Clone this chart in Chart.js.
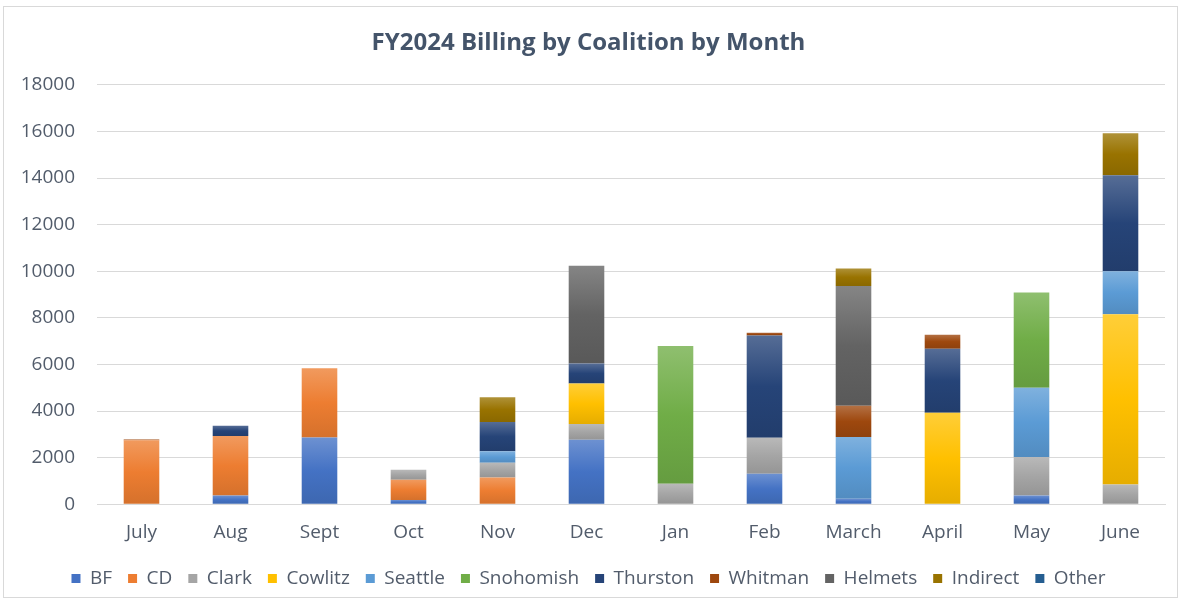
<!DOCTYPE html>
<html>
<head>
<meta charset="utf-8">
<script src="https://cdn.jsdelivr.net/npm/chart.js@4"></script>
<style>
  html, body { margin: 0; padding: 0; background: #fff; }
  #wrap { position: relative; width: 1183px; height: 605px; }
  #frame { position: absolute; left: 3px; top: 6px; width: 1175px; height: 592px; border: 1px solid #d9d9d9; box-sizing: border-box; pointer-events: none; }
  canvas { position: absolute; left: 0; top: 0; }
</style>
</head>
<body>
<div id="wrap">
  <canvas id="myChart" width="1183" height="605"></canvas>
  <div id="frame"></div>
</div>
<script>
const months = ['July', 'Aug', 'Sept', 'Oct', 'Nov', 'Dec', 'Jan', 'Feb', 'March', 'April', 'May', 'June'];

const bf        = [0, 375, 2860, 180, 0, 2770, 0, 1305, 230, 0, 375, 0];
const cd        = [2750, 2550, 2970, 870, 1150, 0, 0, 0, 0, 0, 0, 0];
const clark     = [0, 0, 0, 430, 630, 675, 875, 1550, 0, 0, 1650, 850];
const cowlitz   = [0, 0, 0, 0, 0, 1740, 0, 0, 0, 3920, 0, 7305];
const seattle   = [0, 0, 0, 0, 490, 0, 0, 0, 2655, 0, 2970, 1840];
const snohomish = [0, 0, 0, 0, 0, 0, 5915, 0, 0, 0, 4090, 0];
const thurston  = [0, 445, 0, 0, 1260, 850, 0, 4390, 0, 2755, 0, 4120];
const whitman   = [30, 0, 0, 0, 0, 0, 0, 115, 1335, 600, 0, 0];
const helmets   = [0, 0, 0, 0, 0, 4200, 0, 0, 5140, 0, 0, 0];
const indirect  = [0, 0, 0, 0, 1060, 0, 0, 0, 760, 0, 0, 1810];
const other     = [0, 0, 0, 0, 0, 0, 0, 0, 0, 0, 0, 0];

const yTicks = [0, 2000, 4000, 6000, 8000, 10000, 12000, 14000, 16000, 18000];

const series = [
    { label: 'BF', data: bf, color: '#4472C4' },
    { label: 'CD', data: cd, color: '#ED7D31' },
    { label: 'Clark', data: clark, color: '#A5A5A5' },
    { label: 'Cowlitz', data: cowlitz, color: '#FFC000' },
    { label: 'Seattle', data: seattle, color: '#5B9BD5' },
    { label: 'Snohomish', data: snohomish, color: '#70AD47' },
    { label: 'Thurston', data: thurston, color: '#264478' },
    { label: 'Whitman', data: whitman, color: '#9E480E' },
    { label: 'Helmets', data: helmets, color: '#636363' },
    { label: 'Indirect', data: indirect, color: '#997300' },
    { label: 'Other', data: other, color: '#255E91' }
];

function mix(hex, target, amt) {
    const n = parseInt(hex.slice(1), 16);
    const r = (n >> 16) & 255, g = (n >> 8) & 255, b = n & 255;
    const m = (c) => Math.round(c + (target - c) * amt);
    return `rgb(${m(r)},${m(g)},${m(b)})`;
}

// each segment gets its own light-to-dark gradient, like the office fill
function segmentFill(color) {
    return (ctx) => {
        const chart = ctx.chart;
        if (!chart.chartArea || ctx.type !== 'data') return color;
        const i = ctx.dataIndex;
        let base = 0;
        for (let d = 0; d < ctx.datasetIndex; d++) base += series[d].data[i];
        const top = base + series[ctx.datasetIndex].data[i];
        const y = chart.scales.y;
        const y0 = y.getPixelForValue(top);
        const y1 = y.getPixelForValue(base);
        if (!isFinite(y0) || !isFinite(y1) || y1 - y0 < 1) return color;
        const g = chart.ctx.createLinearGradient(0, y0, 0, y1);
        g.addColorStop(0, mix(color, 255, 0.22));
        g.addColorStop(0.5, color);
        g.addColorStop(1, mix(color, 0, 0.1));
        return g;
    };
}

const textColor = '#525c6b';
const fontFam = '"Open Sans", Lato, sans-serif';

const config = {
    type: 'bar',
    data: {
        labels: months,
        datasets: series.map(s => ({
            label: s.label,
            data: s.data,
            backgroundColor: segmentFill(s.color),
            borderWidth: 0,
            barPercentage: 0.4,
            categoryPercentage: 1
        }))
    },
    options: {
        responsive: false,
        animation: false,
        layout: { padding: { left: 12, right: 18, top: 29, bottom: 7 } },
        plugins: {
            title: {
                display: true,
                text: 'FY2024 Billing by Coalition by Month',
                color: '#44546A',
                font: { family: fontFam, size: 24, weight: 'bold' },
                padding: { top: 0, bottom: 27 }
            },
            legend: {
                position: 'bottom',
                labels: {
                    color: textColor,
                    font: { family: fontFam, size: 19 },
                    boxWidth: 9,
                    boxHeight: 9,
                    padding: 16,
                    generateLabels: (chart) => series.map((s, i) => ({
                        text: s.label,
                        fillStyle: s.color,
                        strokeStyle: s.color,
                        lineWidth: 0,
                        fontColor: textColor,
                        datasetIndex: i
                    }))
                }
            },
            tooltip: { enabled: false }
        },
        scales: {
            x: {
                stacked: true,
                grid: { display: false },
                border: { display: true, color: '#d9d9d9' },
                ticks: { color: textColor, font: { family: fontFam, size: 19 }, padding: 9 }
            },
            y: {
                stacked: true,
                min: 0,
                max: 18000,
                afterBuildTicks: (axis) => { axis.ticks = yTicks.map(v => ({ value: v })); },
                afterFit: (axis) => { axis.width = 85; },
                grid: { color: '#d9d9d9', lineWidth: 1, drawTicks: false },
                border: { display: false },
                ticks: {
                    color: textColor,
                    font: { family: fontFam, size: 19 },
                    padding: 22,
                    callback: (v) => String(v)
                }
            }
        }
    }
};

const chartDOM = document.getElementById('myChart');
const myChart = new Chart(chartDOM, config);
</script>
</body>
</html>
